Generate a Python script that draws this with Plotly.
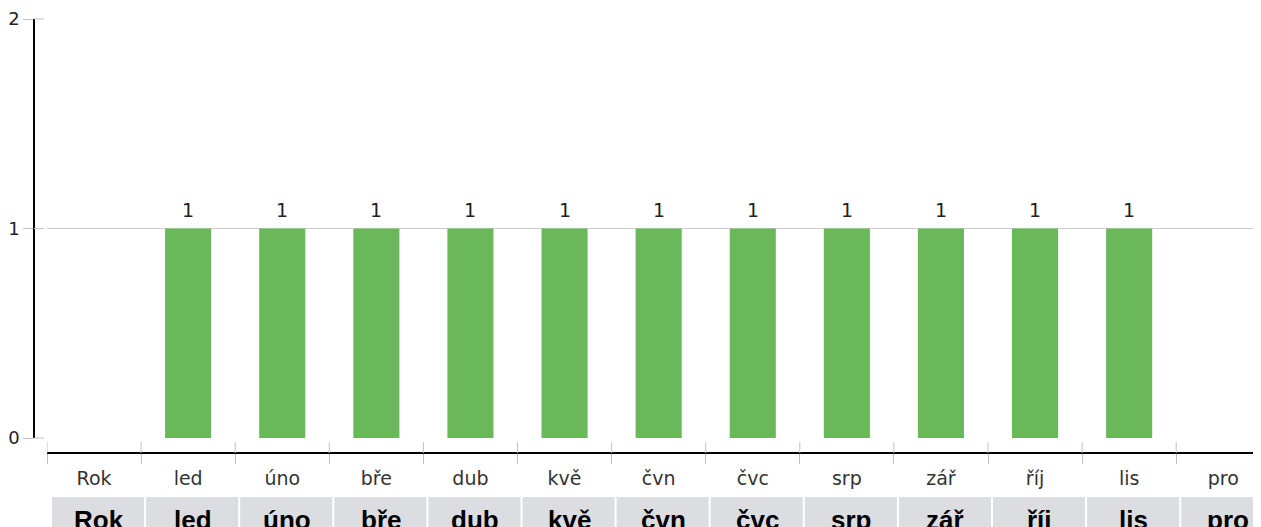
import plotly.graph_objects as go

categories = ["Rok", "led", "úno", "bře", "dub", "kvě", "čvn", "čvc", "srp", "zář", "říj", "lis", "pro"]
values = [None, 1, 1, 1, 1, 1, 1, 1, 1, 1, 1, 1, None]
y_ticks = [0, 1, 2]

# page body has an 8px margin; figure is sized to fit the 1261x527 window
OFF = 8
VW, VH = 1261, 527
W, H = VW - OFF, VH - OFF
TOP = 19 - OFF
PAPER_H = H - TOP


def px_x(x):  # viewport x -> paper fraction
    return (x - OFF) / W


def px_y(y):  # viewport y -> paper fraction
    return (VH - y) / PAPER_H


CAT_W = 94.1
x_dom0 = px_x(47)
span = (VW - 47) / CAT_W
x_range = [-0.5, -0.5 + span]
y_dom0 = px_y(438)
x_axis_pos = px_y(453)
y_axis_pos = px_x(34)

fig = go.Figure()
fig.add_trace(go.Bar(
    x=categories, y=values,
    marker=dict(color="#6bb85b", line=dict(width=0)),
    hoverinfo="skip",
))


def ypaper(v):
    return y_dom0 + v / 2 * (1 - y_dom0)


shapes = []
for i in range(len(categories) + 1):
    shapes.append(dict(type="line", xref="x", yref="paper",
                       x0=i - 0.5, x1=i - 0.5,
                       y0=x_axis_pos, y1=px_y(442),
                       line=dict(color="#c0c0c0", width=1)))
for v in y_ticks:
    shapes.append(dict(type="line", xref="paper", yref="paper",
                       x0=y_axis_pos, x1=px_x(44), y0=ypaper(v), y1=ypaper(v),
                       line=dict(color="#c0c0c0", width=1)))
for i, c in enumerate(categories):
    shapes.append(dict(type="rect", xref="x", yref="paper",
                       x0=i - 0.5 + 5 / CAT_W, x1=i + 0.5 + 3 / CAT_W,
                       y0=-0.05, y1=px_y(497),
                       fillcolor="#dcdde0", line=dict(width=0), layer="above"))

annotations = []
for i, c in enumerate(categories):
    annotations.append(dict(x=i + 4.5 / CAT_W, xref="x", y=px_y(520), yref="paper",
                            text="<b>%s</b>" % c, showarrow=False, yanchor="middle",
                            font=dict(family="Liberation Sans, Arial", size=26, color="#000")))
for c, v in zip(categories, values):
    if v is not None:
        annotations.append(dict(x=c, y=v, xref="x", yref="y", text=str(v), showarrow=False,
                                yanchor="bottom", yshift=6,
                                font=dict(family="DejaVu Sans", size=19, color="#222")))

fig.update_layout(
    width=W, height=H,
    margin=dict(l=0, r=0, t=TOP, b=0, pad=0, autoexpand=False),
    paper_bgcolor="white", plot_bgcolor="white",
    showlegend=False,
    bargap=0.51,
    shapes=shapes,
    annotations=annotations,
    xaxis=dict(
        domain=[x_dom0, 1], range=x_range, type="category", automargin=False,
        anchor="free", position=x_axis_pos,
        showline=True, linecolor="#000", linewidth=2,
        ticks="outside", ticklen=10, tickcolor="#c0c0c0", tickwidth=1,
        tickson="boundaries", showgrid=False, zeroline=False,
        ticklabelstandoff=8,
        tickfont=dict(family="DejaVu Sans", size=19, color="#333"),
    ),
    yaxis=dict(
        domain=[y_dom0, 1], range=[0, 2], automargin=False,
        anchor="free", position=y_axis_pos,
        tickvals=y_ticks,
        showline=True, linecolor="#000", linewidth=1.5,
        ticks="outside", ticklen=10, tickcolor="#c0c0c0", tickwidth=1,
        showgrid=True, gridcolor="#cccccc", gridwidth=1, zeroline=False,
        tickfont=dict(family="DejaVu Sans", size=18, color="#222"),
    ),
)

fig.write_html("out.html")
